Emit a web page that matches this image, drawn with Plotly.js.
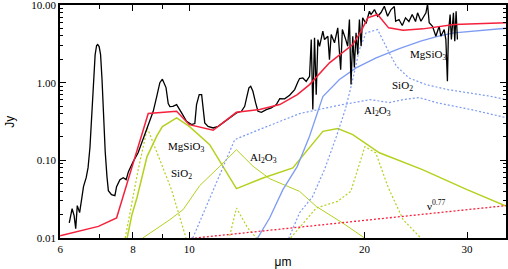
<!DOCTYPE html>
<html><head><meta charset="utf-8">
<script src="https://cdn.plot.ly/plotly-3.0.1.min.js"></script>
<style>html,body{margin:0;padding:0;background:#fff}#chart{width:508px;height:269px}</style>
</head><body><div id="chart"></div>
<script>
// Observed spectrum (black)
const obsX = [6.22,6.29,6.34,6.38,6.42,6.48,6.53,6.58,6.65,6.70,6.75,6.81,6.85,6.89,6.93,6.96,7.00,7.04,7.08,7.12,7.17,7.22,7.26,7.35,7.45,7.50,7.60,7.70,7.79,7.86,7.96,8.01,8.17,8.33,8.45,8.56,8.67,8.79,8.90,8.99,9.12,9.20,9.26,
 9.37,9.51,9.70,9.89,10.09,10.22,10.29,10.40,10.50,10.56,10.63,10.77,10.99,11.21,11.43,11.73,12.05,12.29,12.45,12.56,12.66,12.75,12.86,13.00,13.12,13.30,13.56,13.83,14.11,14.30,14.58,14.87,15.17,15.37,15.47,15.67,15.88,16.09,16.20,16.30,16.41,16.52,16.63,16.74,16.96,17.07,17.30,17.41,17.53,17.76,17.99,18.20,18.32,18.57,18.71,18.84,18.96,19.09,19.21,19.34,19.47,19.60,19.73,19.85,20.12,20.39,20.52,20.80,21.06,21.35,21.63,21.91,22.21,22.50,22.62,22.92,23.22,23.52,23.84,24.15,24.47,24.67,25.00,25.50,25.66,25.83,26.17,26.52,26.87,27.05,27.41,27.59,27.76,27.87,28.06,28.20,28.43,28.58,28.73,28.88];
const obsY = [0.0157,0.0238,0.0194,0.0132,0.0261,0.0212,0.0311,0.0458,0.0598,0.0805,0.146,0.450,1.27,2.30,3.01,3.10,2.92,2.30,1.10,0.334,0.129,0.0617,0.0407,0.0361,0.0351,0.0458,0.0564,0.0598,0.0564,0.0715,0.088,0.0962,0.126,0.185,0.249,0.315,0.428,0.662,1.00,1.11,0.865,0.538,0.492,
 0.496,0.522,0.408,0.318,0.288,0.297,0.522,0.702,0.702,0.496,0.303,0.274,0.261,0.274,0.303,0.352,0.408,0.428,0.496,0.668,0.857,0.899,0.775,0.549,0.428,0.415,0.450,0.473,0.522,0.624,0.618,0.688,0.815,1.03,1.13,1.15,1.04,1.21,3.59,0.450,3.78,0.702,3.59,2.94,4.60,3.59,3.96,1.98,4.17,3.26,5.08,1.47,4.83,3.59,2.94,6.51,0.945,3.96,1.57,4.38,2.30,6.51,2.94,6.84,5.78,8.32,7.55,8.75,7.17,8.00,9.65,7.17,8.75,9.56,6.18,6.51,5.44,6.84,6.13,7.55,6.13,7.93,6.18,7.93,10.3,5.90,5.33,3.96,5.33,3.96,4.83,3.59,1.04,4.38,7.55,3.59,7.93,3.42,8.32,3.59];

// Total model (red solid)
const totX = [6.0,6.98,7.50,8.50,9.51,10.0,10.99,12.05,13.21,14.30,15.33,16.09,17.41,19.09,19.73,20.26,21.06,22.0,23.3,25.2,28.5,31.1,35.0];
const totY = [0.0107,0.0141,0.0181,0.400,0.428,0.288,0.2435,0.415,0.450,0.522,0.702,0.945,1.80,3.10,4.60,6.84,7.55,5.08,4.73,4.93,5.61,5.78,5.90];

// Crystalline MgSiO3 (blue solid)
const cMgX = [13.05,13.74,14.48,15.33,16.09,16.96,18.11,19.34,20.94,22.95,24.97,26.70,28.5,30.5,32.5,35.0];
const cMgY = [0.0095,0.0181,0.0419,0.0837,0.204,0.662,1.10,1.55,2.09,2.75,3.42,3.96,4.38,4.60,4.83,5.02];

// Crystalline SiO2 (blue dotted)
const cSiX = [14.81,15.47,16.28,17.07,17.89,18.53,19.0,19.60,20.12,21.06,21.98,22.69,23.84,25.5,27.8,30.5,32.9,35.0];
const cSiY = [0.0098,0.0212,0.0340,0.0759,0.202,0.450,0.945,2.67,4.38,4.83,2.54,1.63,1.15,0.945,0.815,0.739,0.668,0.605];

// Crystalline Al2O3 (blue dotted)
const cAlX = [10.14,11.97,13.05,15.47,17.97,20.46,22.06,23.3,24.83,26.70,30.5,35.0];
const cAlY = [0.0100,0.185,0.241,0.400,0.507,0.605,0.554,0.605,0.643,0.549,0.450,0.355];

// Amorphous MgSiO3 (green solid)
const aMgX = [7.82,7.97,8.13,8.46,8.80,8.99,9.51,10.0,10.84,11.43,12.05,13.38,15.06,16.96,17.99,19.09,21.21,25.15,30.0,35.0];
const aMgY = [0.0100,0.020,0.033,0.1116,0.208,0.272,0.352,0.274,0.159,0.0837,0.0432,0.0593,0.0798,0.236,0.256,0.214,0.125,0.0759,0.0419,0.0258];

// Amorphous Al2O3 (green solid, thin)
const aAlX = [8.32,9.26,9.76,10.42,11.28,12.05,12.87,13.74,15.47,16.52,18.34,20.2];
const aAlY = [0.0100,0.0172,0.0232,0.0472,0.0837,0.137,0.0837,0.058,0.0398,0.0255,0.0156,0.0095];

// Amorphous SiO2 (green dotted)
const aSiX = [7.76,7.98,8.17,8.47,8.90,9.32,9.89];
const aSiY = [0.0100,0.0311,0.0759,0.261,0.102,0.0419,0.0095];

// Green dotted feature near 12 micron
const g12X = [11.69,12.05,12.59,13.11];
const g12Y = [0.0095,0.0243,0.0136,0.0095];

// Green dotted feature near 20 micron
const g20X = [14.93,16.52,17.97,18.94,20.03,20.91,21.98,23.3,25.15];
const g20Y = [0.0100,0.0243,0.0296,0.0398,0.150,0.1245,0.0441,0.0172,0.0095];

// Power law nu^0.77 (red dotted)
const plX = [9.6,35.0];
const plY = [0.0095,0.0261];

// Axis ticks
const xTickVals = [6,8,10,20,30];
const xTickText = ['6','8','10','20','30'];
const xMinorVals = [7,9];
const yTickVals = [0.01,0.1,1,10];
const yTickText = ['0.01','0.10','1.00','10.00'];
const yMinorVals = [0.02,0.03,0.04,0.05,0.06,0.07,0.08,0.09,0.2,0.3,0.4,0.5,0.6,0.7,0.8,0.9,2,3,4,5,6,7,8,9];

const RED = '#f5203c', BLUE = '#7d9bf2', GREEN = '#b6d01e';
function tr(x, y, color, width, dash) {
  return {x: x, y: y, type: 'scatter', mode: 'lines', hoverinfo: 'skip',
          line: {color: color, width: width, dash: dash || 'solid'}};
}
const data = [
  tr(aSiX, aSiY, GREEN, 1.2, '2px,2px'),
  tr(g12X, g12Y, GREEN, 1.2, '2px,2px'),
  tr(g20X, g20Y, GREEN, 1.2, '2px,2px'),
  tr(aAlX, aAlY, GREEN, 1.0),
  tr(aMgX, aMgY, GREEN, 1.5),
  tr(cAlX, cAlY, BLUE, 1.2, '2px,2px'),
  tr(cSiX, cSiY, BLUE, 1.2, '2px,2px'),
  tr(cMgX, cMgY, BLUE, 1.3),
  tr(plX, plY, RED, 1.3, '2px,2px'),
  tr(obsX, obsY, '#000000', 1.3),
  tr(totX, totY, RED, 1.5)
];

const serif = 'Liberation Serif';
const ann = (text, x, y) => ({text: text, x: x, y: y, xref: 'paper', yref: 'paper',
  xanchor: 'center', yanchor: 'middle', showarrow: false,
  font: {family: serif, size: 11, color: '#000'}});

const annotations = [
  ann('MgSiO<sub>3</sub>', 0.825, 0.787),
  ann('SiO<sub>2</sub>', 0.769, 0.654),
  ann('Al<sub>2</sub>O<sub>3</sub>', 0.711, 0.543),
  ann('MgSiO<sub>3</sub>', 0.2825, 0.392),
  ann('SiO<sub>2</sub>', 0.2735, 0.276),
  ann('Al<sub>2</sub>O<sub>3</sub>', 0.457, 0.345),
  ann('ν<sup>0.77</sup>', 0.845, 0.143),
  {text: 'Jy', x: -0.114, y: 0.5, xref: 'paper', yref: 'paper', xanchor: 'center', yanchor: 'middle',
   showarrow: false, textangle: -90, font: {family: 'Liberation Sans', size: 12, color: '#000'}}
];

const layout = {
  width: 508, height: 269,
  margin: {l: 60, r: 2, t: 5, b: 31},
  paper_bgcolor: '#fff', plot_bgcolor: '#fff',
  showlegend: false,
  xaxis: {
    type: 'log', range: [Math.log10(6) - 0.0003, Math.log10(35)],
    tickmode: 'array', tickvals: xTickVals, ticktext: xTickText,
    ticks: 'inside', ticklen: 6, tickwidth: 1, tickcolor: '#000',
    minor: {tickmode: 'array', tickvals: xMinorVals, ticks: 'inside', ticklen: 4, tickwidth: 1, tickcolor: '#000', showgrid: false},
    showline: true, linecolor: '#000', linewidth: 1.5, mirror: 'allticks',
    showgrid: false, zeroline: false, ticklabeloverflow: 'allow',
    tickfont: {family: serif, size: 11, color: '#000'},
    title: {text: 'μm', font: {family: 'Liberation Sans', size: 12, color: '#000'}, standoff: 6}
  },
  yaxis: {
    type: 'log', range: [-2.0003, 1.0003],
    tickmode: 'array', tickvals: yTickVals, ticktext: yTickText,
    ticks: 'inside', ticklen: 6, tickwidth: 1, tickcolor: '#000',
    minor: {tickmode: 'array', tickvals: yMinorVals, ticks: 'inside', ticklen: 3, tickwidth: 1, tickcolor: '#000', showgrid: false},
    showline: true, linecolor: '#000', linewidth: 1.5, mirror: 'allticks',
    showgrid: false, zeroline: false, ticklabeloverflow: 'allow',
    tickfont: {family: serif, size: 11, color: '#000'}
  },
  annotations: annotations
};
Plotly.newPlot('chart', data, layout, {displayModeBar: false});
</script>
</body></html>
